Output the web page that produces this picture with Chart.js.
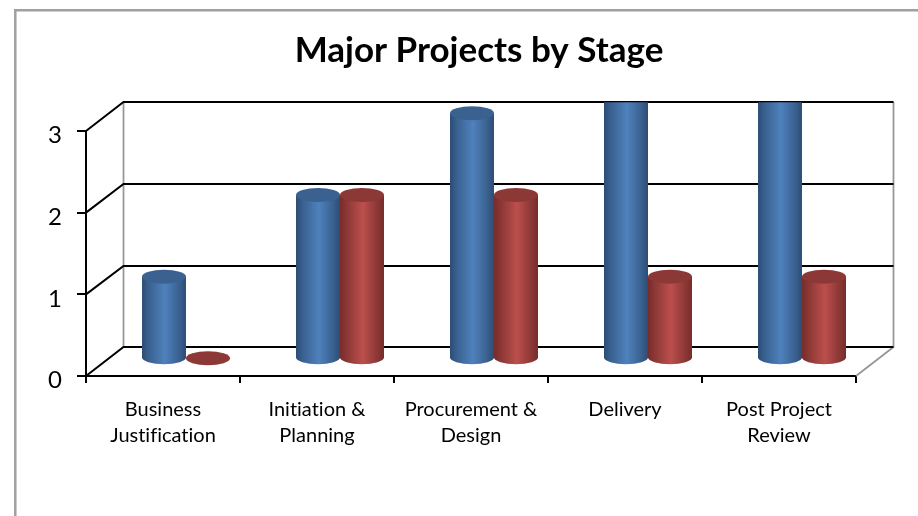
<!DOCTYPE html>
<html>
<head>
<meta charset="utf-8">
<style>html,body{margin:0;padding:0;background:#fff;overflow:hidden}canvas{display:block}</style>
<script src="https://cdn.jsdelivr.net/npm/chart.js@4"></script>
</head>
<body>
<canvas id="c" width="918" height="516"></canvas>
<script>
const categories = [["Business","Justification"],["Initiation &","Planning"],["Procurement &","Design"],["Delivery"],["Post Project","Review"]];
const seriesA = [1,2,3,4,4];
const seriesB = [0,2,2,1,1];
const axisMin = 0;
const axisMax = 3;
const axisStep = 1;
const titleText = "Major Projects by Stage";

const WALL_DX = 37.5, WALL_DY = 28.7;   // oblique depth of the box
const BAR_DX = 23, BAR_DY = 17.7, CAP_RY = 7;  // bars stand mid-depth

class CylinderBar extends Chart.BarElement {
  draw(ctx) {
    const {x, y, base, width} = this.getProps(['x','y','base','width'], true);
    const o = this.options;
    const cx = x + BAR_DX, r = width / 2;
    const topY = y - BAR_DY, botY = base - BAR_DY;
    ctx.save();
    ctx.beginPath();
    ctx.rect(cx - r - 1, this.clipTop, width + 2, 600);
    ctx.clip();
    if (botY - topY > 0.5) {
      const g = ctx.createLinearGradient(cx - r, 0, cx + r, 0);
      g.addColorStop(0, o.borderColor);
      g.addColorStop(0.16, this.capColor);
      g.addColorStop(0.52, o.backgroundColor);
      g.addColorStop(0.84, this.capColor);
      g.addColorStop(1, o.borderColor);
      ctx.fillStyle = g;
      ctx.beginPath();
      ctx.moveTo(cx - r, topY);
      ctx.lineTo(cx - r, botY);
      ctx.ellipse(cx, botY, r, CAP_RY, 0, Math.PI, 0, true);
      ctx.lineTo(cx + r, topY);
      ctx.closePath();
      ctx.fill();
    }
    ctx.fillStyle = this.capColor;
    ctx.beginPath();
    ctx.ellipse(cx, topY, r, CAP_RY, 0, 0, Math.PI * 2);
    ctx.fill();
    ctx.restore();
  }
}
CylinderBar.id = 'cylinderBar';
CylinderBar.defaults = Object.assign({}, Chart.BarElement.defaults);
CylinderBar.defaultRoutes = Chart.BarElement.defaultRoutes;

class CylinderController extends Chart.BarController {
  draw() {
    const top = this.chart.scales.y.top - WALL_DY;
    const cap = this.getDataset().capColor;
    this._cachedMeta.data.forEach(el => { el.clipTop = top; el.capColor = cap; });
    super.draw();
  }
}
CylinderController.id = 'cylinder';
CylinderController.defaults = Object.assign({}, Chart.BarController.defaults, {dataElementType: 'cylinderBar'});
CylinderController.overrides = Chart.BarController.overrides;
Chart.register(CylinderBar, CylinderController);

const box3d = {
  id: 'box3d',
  beforeLayout(chart) { chart.ctx.textRendering = 'optimizeSpeed'; },
  beforeDraw(chart) {
    const ctx = chart.ctx;
    ctx.textRendering = 'optimizeSpeed';
    ctx.save();
    ctx.strokeStyle = '#a0a0a0';
    ctx.lineWidth = 2.5;
    ctx.beginPath();
    ctx.moveTo(15.3, 516);
    ctx.lineTo(15.3, 10.3);
    ctx.lineTo(918, 10.3);
    ctx.stroke();
    ctx.restore();
  },
  beforeDatasetsDraw(chart) {
    const ctx = chart.ctx, xs = chart.scales.x, ys = chart.scales.y;
    const L = xs.left, R = xs.right, B = ys.bottom;
    const bl = L + WALL_DX, br = R + WALL_DX;
    ctx.save();
    ctx.lineCap = 'butt';
    ctx.strokeStyle = '#969696';
    ctx.lineWidth = 1.75;
    ctx.beginPath();
    ctx.moveTo(bl, Math.round(ys.top - WALL_DY));
    ctx.lineTo(bl, Math.round(B - WALL_DY));
    ctx.moveTo(br, Math.round(ys.top - WALL_DY));
    ctx.lineTo(br, Math.round(B - WALL_DY));
    ctx.lineTo(R, B);
    ctx.stroke();
    ctx.strokeStyle = '#000';
    ctx.lineWidth = 2;
    ys.ticks.forEach(t => {
      const py = ys.getPixelForValue(t.value);
      const by = Math.round(py - WALL_DY);
      ctx.beginPath();
      ctx.moveTo(L, py);
      ctx.lineTo(bl, by);
      ctx.lineTo(br, by);
      ctx.stroke();
    });
    ctx.restore();
  }
};

new Chart(document.getElementById('c'), {
  type: 'cylinder',
  data: {
    labels: categories,
    datasets: [
      {label: 'Series A', data: seriesA, backgroundColor: '#4f81bd', borderColor: '#2c4d75', capColor: '#3a6190', clip: false},
      {label: 'Series B', data: seriesB, backgroundColor: '#bc4f4c', borderColor: '#772c2a', capColor: '#8c3836', clip: false}
    ]
  },
  plugins: [box3d],
  options: {
    responsive: false,
    animation: false,
    events: [],
    categoryPercentage: 0.5714,
    barPercentage: 1,
    layout: {padding: {left: 40, right: 0, top: 0, bottom: 0}},
    plugins: {
      legend: {display: false},
      tooltip: {enabled: false},
      title: {
        display: true,
        text: titleText,
        color: '#000',
        font: {family: 'Lato', size: 35, weight: 'bold', lineHeight: 1.2},
        padding: {top: 30, bottom: 59}
      }
    },
    scales: {
      x: {
        ticks: {color: '#000', font: {family: 'Lato', size: 20, lineHeight: 1.3}, padding: 14, maxRotation: 0, autoSkip: false},
        grid: {drawOnChartArea: false, drawTicks: true, tickLength: 7, color: '#000', lineWidth: 2},
        border: {color: '#000', width: 2},
        afterFit(s) { s.height = 140; }
      },
      y: {
        min: axisMin, max: axisMax,
        ticks: {
          stepSize: axisStep, color: '#000',
          font: {family: 'Lato', size: 24, lineHeight: '9px'},
          padding: 15,
          callback: v => ['', String(v)]   // blank first line nudges the digit below its tick
        },
        grid: {drawOnChartArea: false, drawTicks: true, tickLength: 9, color: '#000', lineWidth: 2},
        border: {color: '#000', width: 2},
        afterFit(s) { s.width = 46; }
      },
      rightMargin: {
        position: 'right', display: true,
        ticks: {display: false},
        grid: {display: false},
        border: {display: false},
        afterFit(s) { s.width = 62; }
      }
    }
  }
});
</script>
</body>
</html>
